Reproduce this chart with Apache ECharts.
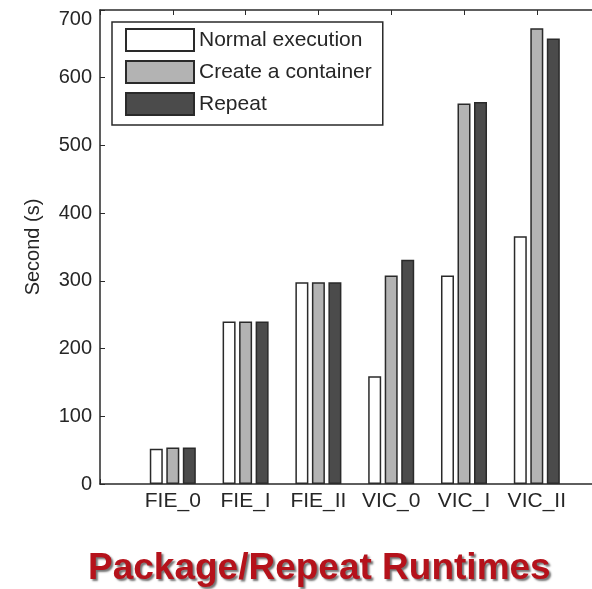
<!DOCTYPE html>
<html>
<head>
<meta charset="utf-8">
<script src="https://cdn.jsdelivr.net/npm/echarts@6/dist/echarts.min.js"></script>
<style>html,body{margin:0;padding:0;background:#fff;}#c{width:592px;height:589px;}</style>
</head>
<body>
<div id="c"></div>
<script>
const categories = ['FIE_0', 'FIE_I', 'FIE_II', 'VIC_0', 'VIC_I', 'VIC_II'];
const normalExecution = [52, 240, 298, 159, 308, 366];
const createContainer = [54, 240, 298, 308, 562, 673];
const repeatRun = [54, 240, 298, 331, 564, 658];
const yTicks = [0, 100, 200, 300, 400, 500, 600, 700];

const FONT = '"Liberation Sans", Arial, sans-serif';
const TXT = '#262626';

function toPoints(arr) { return arr.map((v, i) => [i + 1, v]); }

const chart = echarts.init(document.getElementById('c'), null, { renderer: 'canvas' });
const barCommon = {
  type: 'bar',
  barWidth: 13,
  barGap: '27%',
  itemStyle: { borderColor: '#2a2a2a', borderWidth: 1.5 }
};
chart.setOption({
  backgroundColor: '#ffffff',
  animation: false,
  title: {
    text: 'Package/Repeat Runtimes',
    left: 83,
    top: 545,
    textStyle: {
      fontFamily: FONT, fontSize: 37, fontWeight: 'bold', color: '#b5121b',
      textShadowColor: 'rgba(0,0,0,0.55)', textShadowBlur: 2, textShadowOffsetX: 2, textShadowOffsetY: 2
    }
  },
  legend: {
    orient: 'vertical',
    left: 112,
    top: 22,
    padding: [6, 11, 9, 13],
    borderColor: '#2a2a2a',
    borderWidth: 1.5,
    icon: 'rect',
    itemWidth: 68,
    itemHeight: 22,
    itemGap: 8,
    textStyle: { fontFamily: FONT, fontSize: 21, color: TXT, lineHeight: 22 },
    data: ['Normal execution', 'Create a container', 'Repeat']
  },
  grid: { left: 100, top: 10, width: 509.6, height: 474, containLabel: false, outerBoundsMode: 'none' },
  xAxis: [{
    type: 'value', min: 0, max: 7, interval: 1,
    axisLine: { show: true, lineStyle: { color: '#2a2a2a', width: 1.5 } },
    axisTick: { show: true, inside: true, length: 5, lineStyle: { color: '#2a2a2a' } },
    splitLine: { show: false },
    axisLabel: {
      margin: 7, fontFamily: FONT, fontSize: 21, color: TXT,
      formatter: v => (Number.isInteger(v) && v >= 1 && v <= categories.length) ? categories[v - 1] : ''
    }
  }, {
    type: 'value', min: 0, max: 7, interval: 1, position: 'top',
    axisLine: { show: true, lineStyle: { color: '#2a2a2a', width: 1.5 } },
    axisTick: { show: true, inside: true, length: 5, lineStyle: { color: '#2a2a2a' } },
    splitLine: { show: false },
    axisLabel: { show: false }
  }],
  yAxis: {
    type: 'value', min: yTicks[0], max: yTicks[yTicks.length - 1], interval: 100,
    name: 'Second (s)', nameLocation: 'middle', nameGap: 57,
    nameTextStyle: { fontFamily: FONT, fontSize: 20, color: TXT },
    axisLine: { show: true, lineStyle: { color: '#2a2a2a', width: 1.5 } },
    axisTick: { show: true, inside: true, length: 5, lineStyle: { color: '#2a2a2a' } },
    splitLine: { show: false },
    axisLabel: {
      margin: 8, fontFamily: FONT, fontSize: 20, color: TXT,
      formatter: v => v === 700 ? '{t|700}' : String(v),
      rich: { t: { fontFamily: FONT, fontSize: 20, color: TXT, padding: [18, 0, 0, 0] } }
    }
  },
  series: [
    Object.assign({}, barCommon, { name: 'Normal execution', data: toPoints(normalExecution), itemStyle: Object.assign({}, barCommon.itemStyle, { color: '#ffffff' }) }),
    Object.assign({}, barCommon, { name: 'Create a container', data: toPoints(createContainer), itemStyle: Object.assign({}, barCommon.itemStyle, { color: '#b3b3b3' }) }),
    Object.assign({}, barCommon, { name: 'Repeat', data: toPoints(repeatRun), itemStyle: Object.assign({}, barCommon.itemStyle, { color: '#4b4b4b' }) })
  ]
});
</script>
</body>
</html>
